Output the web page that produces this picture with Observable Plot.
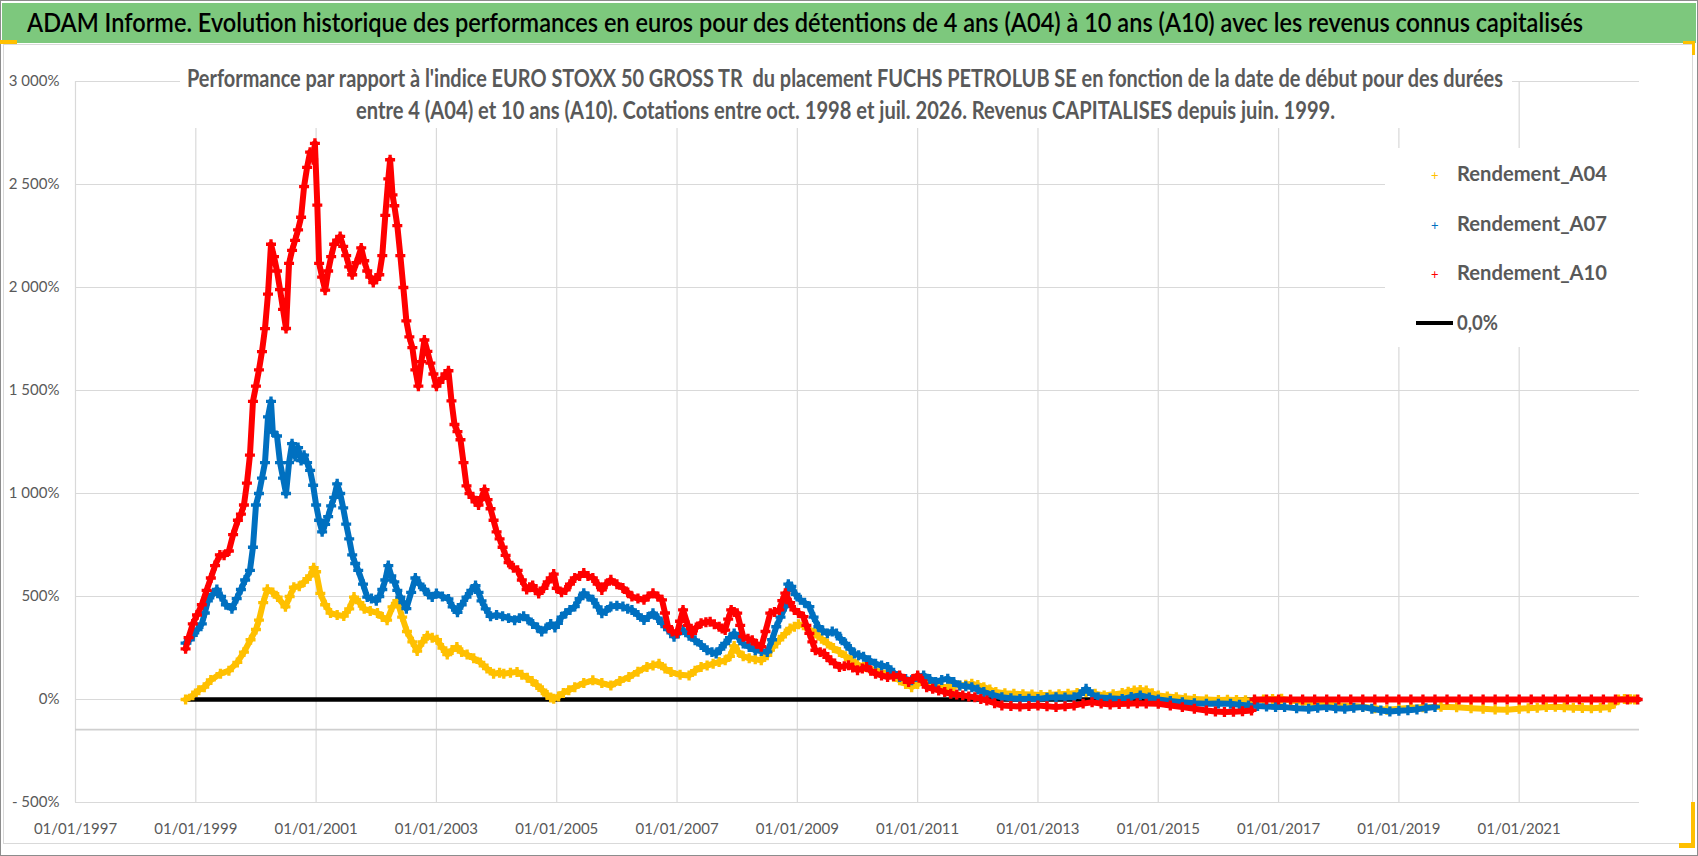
<!DOCTYPE html>
<html><head><meta charset="utf-8">
<script src="https://cdn.jsdelivr.net/npm/d3@7"></script>
<script src="https://cdn.jsdelivr.net/npm/@observablehq/plot@0.6"></script>
<style>
body{margin:0;background:#fff;}
#frame{position:relative;width:1698px;height:856px;overflow:hidden;background:#fff;font-family:Lato,"Open Sans",sans-serif;}
.abs{position:absolute;box-sizing:border-box;}
.fit{position:absolute;white-space:pre;transform-origin:0 0;line-height:1;}
</style></head><body>
<div id="frame">
  <div class="abs" style="left:0;top:0;width:1698px;height:856px;border:1px solid #8c8c8c;"></div>
  <div class="abs" style="left:2px;top:3px;width:1694px;height:40px;background:#7dc87d"></div>
  <div class="abs" style="left:3px;top:44px;width:1690px;height:800px;border:1px solid #d9d9d9;"></div>
  <div id="chart" class="abs" style="left:0;top:45px"></div>
  <div class="abs" style="left:180px;top:62px;width:1332px;height:66px;background:#fff"></div>
  <div class="abs" style="left:1385px;top:148px;width:255px;height:199px;background:#fff"></div>
  <div class="abs" style="left:1416px;top:321px;width:37px;height:4px;background:#000"></div>
  <div class="abs" style="left:0;top:40px;width:17px;height:4px;background:#ffc000"></div>
  <div class="abs" style="left:1683px;top:41px;width:12px;height:3px;background:#ffc000"></div>
  <div class="abs" style="left:1692px;top:41px;width:3px;height:14px;background:#ffc000"></div>
  <div class="abs" style="left:1691px;top:802px;width:4px;height:46px;background:#ffc000"></div>
  <div class="abs" style="left:1679px;top:843px;width:16px;height:5px;background:#ffc000"></div>
</div>
<script>
// ---------------- data ----------------
const titleText = "ADAM Informe. Evolution historique des performances en euros pour des détentions de 4 ans (A04) à 10 ans (A10) avec les revenus connus capitalisés";
const subtitleLines = [
  "Performance par rapport à l'indice EURO STOXX 50 GROSS TR  du placement FUCHS PETROLUB SE en fonction de la date de début pour des durées",
  "entre 4 (A04) et 10 ans (A10). Cotations entre oct. 1998 et juil. 2026. Revenus CAPITALISES depuis juin. 1999."
];
const seriesNames = ["Rendement_A04", "Rendement_A07", "Rendement_A10"];
const zeroName = "0,0%";
const seriesColors = ["#ffc000", "#0070c0", "#ff0000"];

const xTicks = [1997, 1999, 2001, 2003, 2005, 2007, 2009, 2011, 2013, 2015, 2017, 2019, 2021];
const xTickLabels = ["01/01/1997","01/01/1999","01/01/2001","01/01/2003","01/01/2005","01/01/2007","01/01/2009","01/01/2011","01/01/2013","01/01/2015","01/01/2017","01/01/2019","01/01/2021"];
const yTicks = [-500, 0, 500, 1000, 1500, 2000, 2500, 3000];
const yTickLabels = ["- 500%", "0%", "500%", "1 000%", "1 500%", "2 000%", "2 500%", "3 000%"];
const xDomain = [1997, 2023];
const yDomain = [-500, 3000];
const axisCross = [-146];
const zeroLine = [[1998.85, 0], [2023, 0]];

// [start date as decimal year, performance %]
const a04 = [[1998.83,0],[1998.95,20],[1999.05,45],[1999.14,60],[1999.25,95],[1999.41,125],[1999.55,140],[1999.69,180],[1999.8,230],[1999.91,290],[2000.0,340],[2000.05,385],[2000.12,470],[2000.19,535],[2000.28,520],[2000.36,497],[2000.49,450],[2000.56,500],[2000.63,545],[2000.72,550],[2000.8,570],[2000.9,600],[2000.96,640],[2001.0,620],[2001.07,515],[2001.15,460],[2001.24,420],[2001.35,410],[2001.46,405],[2001.55,440],[2001.63,497],[2001.72,470],[2001.8,440],[2001.9,430],[2002.02,420],[2002.1,400],[2002.18,385],[2002.27,450],[2002.35,480],[2002.43,400],[2002.51,330],[2002.6,280],[2002.68,235],[2002.77,280],[2002.85,310],[2002.93,300],[2003.01,290],[2003.1,250],[2003.18,218],[2003.26,240],[2003.34,255],[2003.42,230],[2003.51,218],[2003.62,200],[2003.73,180],[2003.84,150],[2003.95,125],[2004.05,130],[2004.12,125],[2004.23,130],[2004.34,134],[2004.42,120],[2004.51,106],[2004.59,90],[2004.67,70],[2004.76,45],[2004.84,22],[2004.9,10],[2004.95,4],[2005.03,15],[2005.11,32],[2005.2,45],[2005.3,60],[2005.45,80],[2005.6,93],[2005.75,80],[2005.9,68],[2006.05,90],[2006.2,109],[2006.35,135],[2006.5,158],[2006.6,165],[2006.7,174],[2006.8,150],[2006.9,133],[2007.05,120],[2007.2,117],[2007.3,140],[2007.4,158],[2007.5,165],[2007.6,174],[2007.7,182],[2007.8,190],[2007.88,210],[2007.95,260],[2008.02,230],[2008.1,210],[2008.2,200],[2008.3,195],[2008.4,190],[2008.5,215],[2008.6,256],[2008.7,290],[2008.8,320],[2008.88,345],[2008.95,353],[2009.02,365],[2009.1,360],[2009.2,340],[2009.3,320],[2009.4,295],[2009.5,272],[2009.6,250],[2009.7,231],[2009.8,210],[2009.9,190],[2010.0,170],[2010.1,158],[2010.2,150],[2010.3,142],[2010.4,133],[2010.5,125],[2010.6,110],[2010.7,93],[2010.8,75],[2010.9,60],[2011.0,75],[2011.1,85],[2011.2,75],[2011.3,68],[2011.4,62],[2011.5,60],[2011.6,65],[2011.7,68],[2011.8,72],[2011.9,77],[2012.0,70],[2012.1,60],[2012.2,48],[2012.3,36],[2012.45,30],[2012.6,28],[2012.75,26],[2012.9,24],[2013.05,22],[2013.2,23],[2013.35,26],[2013.5,28],[2013.65,32],[2013.8,36],[2013.95,28],[2014.1,20],[2014.25,25],[2014.4,31],[2014.5,38],[2014.6,44],[2014.7,46],[2014.8,44],[2014.9,30],[2015.0,19],[2015.15,15],[2015.3,11],[2015.45,6],[2015.6,3],[2015.8,0],[2016.0,-2],[2016.15,-1],[2016.3,-2],[2016.45,-4],[2016.6,-5],[2016.75,0],[2016.9,3],[2017.05,4],[2017.2,-5],[2017.4,-12],[2017.6,-18],[2017.8,-22],[2018.0,-28],[2018.2,-30],[2018.4,-35],[2018.6,-42],[2018.8,-50],[2019.0,-45],[2019.2,-40],[2019.4,-38],[2019.7,-35],[2019.96,-38],[2020.2,-42],[2020.4,-45],[2020.6,-48],[2020.8,-50],[2021.0,-45],[2021.15,-42],[2021.3,-40],[2021.45,-37],[2021.6,-35],[2021.75,-38],[2021.9,-40],[2022.05,-41],[2022.2,-42],[2022.35,-40],[2022.5,-38],[2022.58,-20],[2022.65,0],[2022.75,2],[2022.85,1],[2022.92,0]];

const a07 = [[1998.83,274],[1998.9,290],[1998.95,311],[1999.03,340],[1999.1,367],[1999.15,420],[1999.2,479],[1999.28,510],[1999.35,534],[1999.42,500],[1999.5,460],[1999.6,441],[1999.68,490],[1999.75,534],[1999.82,580],[1999.9,627],[1999.95,739],[2000.0,944],[2000.05,1000],[2000.1,1075],[2000.15,1150],[2000.2,1372],[2000.25,1447],[2000.28,1298],[2000.35,1279],[2000.4,1150],[2000.45,1075],[2000.5,1000],[2000.55,1150],[2000.6,1242],[2000.65,1180],[2000.7,1223],[2000.75,1160],[2000.8,1186],[2000.85,1150],[2000.9,1112],[2000.95,1040],[2001.0,944],[2001.05,870],[2001.1,814],[2001.15,850],[2001.2,888],[2001.25,940],[2001.3,981],[2001.35,1047],[2001.4,1000],[2001.45,930],[2001.5,851],[2001.55,780],[2001.6,702],[2001.65,660],[2001.7,627],[2001.78,560],[2001.85,497],[2001.92,490],[2002.0,479],[2002.05,500],[2002.1,534],[2002.15,580],[2002.2,650],[2002.25,600],[2002.3,571],[2002.35,530],[2002.4,497],[2002.45,470],[2002.5,441],[2002.58,520],[2002.65,590],[2002.72,560],[2002.8,534],[2002.87,510],[2002.93,497],[2003.0,515],[2003.1,500],[2003.2,488],[2003.27,450],[2003.35,423],[2003.42,460],[2003.5,497],[2003.58,530],[2003.65,553],[2003.7,520],[2003.75,479],[2003.82,440],[2003.9,404],[2004.0,410],[2004.1,404],[2004.2,395],[2004.3,385],[2004.38,395],[2004.45,404],[2004.52,390],[2004.6,367],[2004.68,350],[2004.75,330],[2004.82,345],[2004.9,367],[2004.97,350],[2005.02,370],[2005.08,400],[2005.15,419],[2005.22,435],[2005.3,451],[2005.38,490],[2005.45,516],[2005.52,500],[2005.6,484],[2005.68,450],[2005.75,419],[2005.82,430],[2005.9,451],[2006.0,455],[2006.1,451],[2006.18,440],[2006.25,435],[2006.35,410],[2006.45,386],[2006.52,400],[2006.6,419],[2006.68,395],[2006.75,370],[2006.85,340],[2006.95,305],[2007.02,320],[2007.1,337],[2007.2,310],[2007.3,288],[2007.4,265],[2007.5,239],[2007.58,230],[2007.65,223],[2007.72,245],[2007.8,272],[2007.88,300],[2007.95,321],[2008.02,300],[2008.1,272],[2008.2,255],[2008.3,239],[2008.4,235],[2008.5,231],[2008.58,290],[2008.65,353],[2008.72,400],[2008.8,451],[2008.85,560],[2008.9,549],[2008.97,510],[2009.05,484],[2009.12,470],[2009.2,451],[2009.27,400],[2009.35,353],[2009.42,335],[2009.5,321],[2009.58,330],[2009.65,321],[2009.72,295],[2009.8,272],[2009.88,245],[2009.95,223],[2010.02,215],[2010.1,207],[2010.2,190],[2010.3,174],[2010.4,165],[2010.5,158],[2010.6,130],[2010.7,109],[2010.8,100],[2010.9,93],[2011.0,110],[2011.1,117],[2011.2,100],[2011.3,85],[2011.4,95],[2011.5,101],[2011.6,85],[2011.7,68],[2011.8,64],[2011.9,60],[2012.0,48],[2012.1,36],[2012.25,22],[2012.4,11],[2012.55,6],[2012.7,3],[2012.85,4],[2013.0,3],[2013.15,8],[2013.3,11],[2013.45,10],[2013.6,11],[2013.7,25],[2013.8,52],[2013.9,25],[2014.0,11],[2014.2,6],[2014.4,3],[2014.55,12],[2014.7,20],[2014.85,10],[2015.0,0],[2015.2,-7],[2015.4,-13],[2015.6,-18],[2015.8,-21],[2016.0,-20],[2016.2,-21],[2016.35,-25],[2016.5,-29],[2016.65,-32],[2016.8,-34],[2016.95,-36],[2017.1,-37],[2017.3,-42],[2017.5,-45],[2017.65,-40],[2017.8,-37],[2017.95,-42],[2018.1,-45],[2018.25,-40],[2018.4,-37],[2018.55,-45],[2018.7,-53],[2018.85,-58],[2019.0,-55],[2019.15,-52],[2019.3,-48],[2019.45,-42],[2019.6,-36]];

const a10 = [[1998.83,246],[1998.88,300],[1998.95,367],[1999.02,410],[1999.1,460],[1999.18,530],[1999.25,590],[1999.32,650],[1999.4,702],[1999.47,700],[1999.55,721],[1999.62,800],[1999.7,870],[1999.75,900],[1999.8,944],[1999.85,1050],[1999.9,1186],[1999.95,1447],[2000.0,1521],[2000.05,1600],[2000.1,1689],[2000.15,1800],[2000.2,1968],[2000.25,2210],[2000.3,2150],[2000.35,2080],[2000.4,1990],[2000.45,1894],[2000.5,1801],[2000.55,2117],[2000.6,2180],[2000.65,2229],[2000.7,2280],[2000.75,2341],[2000.8,2490],[2000.85,2583],[2000.9,2657],[2000.95,2620],[2000.98,2700],[2001.02,2400],[2001.05,2117],[2001.1,2050],[2001.15,1987],[2001.2,2080],[2001.25,2150],[2001.3,2210],[2001.35,2230],[2001.4,2248],[2001.45,2200],[2001.5,2155],[2001.55,2100],[2001.6,2062],[2001.67,2120],[2001.75,2192],[2001.8,2130],[2001.85,2080],[2001.9,2050],[2001.95,2024],[2002.0,2040],[2002.05,2062],[2002.1,2155],[2002.15,2350],[2002.2,2527],[2002.23,2620],[2002.27,2450],[2002.3,2397],[2002.35,2300],[2002.4,2155],[2002.45,2000],[2002.5,1838],[2002.55,1760],[2002.6,1708],[2002.65,1600],[2002.7,1521],[2002.75,1640],[2002.8,1745],[2002.85,1690],[2002.9,1633],[2002.95,1580],[2003.0,1521],[2003.05,1540],[2003.1,1559],[2003.15,1580],[2003.2,1596],[2003.25,1450],[2003.3,1335],[2003.35,1300],[2003.4,1261],[2003.45,1150],[2003.5,1037],[2003.55,1000],[2003.6,981],[2003.65,960],[2003.7,944],[2003.75,980],[2003.8,1019],[2003.85,970],[2003.9,926],[2003.95,870],[2004.0,814],[2004.05,780],[2004.1,739],[2004.15,700],[2004.2,665],[2004.28,640],[2004.35,627],[2004.42,580],[2004.5,534],[2004.55,545],[2004.6,553],[2004.65,530],[2004.7,515],[2004.78,540],[2004.85,571],[2004.9,590],[2004.95,609],[2005.0,540],[2005.08,520],[2005.15,532],[2005.22,560],[2005.3,590],[2005.38,600],[2005.45,614],[2005.52,600],[2005.6,590],[2005.68,560],[2005.75,532],[2005.82,560],[2005.9,581],[2006.0,560],[2006.1,541],[2006.18,520],[2006.25,500],[2006.35,490],[2006.45,484],[2006.52,500],[2006.6,516],[2006.68,500],[2006.75,484],[2006.8,420],[2006.85,353],[2006.92,330],[2007.0,321],[2007.05,380],[2007.1,435],[2007.18,360],[2007.25,321],[2007.32,350],[2007.4,370],[2007.48,375],[2007.55,378],[2007.62,365],[2007.7,353],[2007.75,345],[2007.8,337],[2007.85,390],[2007.9,435],[2007.95,425],[2008.0,419],[2008.05,360],[2008.1,305],[2008.18,295],[2008.25,288],[2008.32,270],[2008.4,256],[2008.47,330],[2008.55,419],[2008.62,425],[2008.7,435],[2008.75,480],[2008.8,516],[2008.88,470],[2008.95,435],[2009.02,420],[2009.1,402],[2009.15,360],[2009.2,321],[2009.25,280],[2009.3,239],[2009.38,230],[2009.45,223],[2009.5,205],[2009.55,190],[2009.62,175],[2009.7,158],[2009.78,162],[2009.85,166],[2009.92,155],[2010.0,142],[2010.08,150],[2010.15,158],[2010.22,140],[2010.3,125],[2010.4,117],[2010.5,109],[2010.6,113],[2010.7,117],[2010.78,100],[2010.85,85],[2010.92,100],[2011.0,117],[2011.08,90],[2011.15,60],[2011.25,52],[2011.35,44],[2011.45,36],[2011.55,28],[2011.65,24],[2011.75,20],[2011.85,15],[2011.95,11],[2012.05,3],[2012.15,-5],[2012.28,-18],[2012.4,-29],[2012.55,-32],[2012.7,-34],[2012.85,-31],[2013.0,-29],[2013.15,-33],[2013.3,-37],[2013.45,-33],[2013.6,-29],[2013.75,-20],[2013.9,-13],[2014.05,-20],[2014.2,-24],[2014.35,-22],[2014.5,-21],[2014.65,-18],[2014.8,-20],[2015.0,-21],[2015.2,-29],[2015.4,-37],[2015.6,-45],[2015.8,-53],[2015.95,-58],[2016.1,-61],[2016.25,-59],[2016.4,-57],[2016.55,-53]];
const a10Late = [[2016.6,0],[2016.8,0],[2017.0,0],[2017.2,0],[2017.4,0],[2017.6,0],[2017.8,0],[2018.0,0],[2018.2,0],[2018.4,0],[2018.6,0],[2018.8,0],[2019.0,0],[2019.2,0],[2019.4,0],[2019.6,0],[2019.8,0],[2020.0,0],[2020.2,0],[2020.4,0],[2020.6,0],[2020.8,0],[2021.0,0],[2021.2,0],[2021.4,0],[2021.6,0],[2021.8,0],[2022.0,0],[2022.2,0],[2022.4,0],[2022.6,0],[2022.8,0],[2022.97,0]];

// ---------------- chart ----------------
const W = 1698, H = 800;
const X = d => d[0], Y = d => d[1];
function seriesMarks(data, color) {
  return [
    Plot.line(data, {x: X, y: Y, stroke: color, strokeWidth: 6, strokeLinejoin: "round"}),
    Plot.dot(data, {x: X, y: Y, symbol: "cross", r: 4.2, fill: color, stroke: "none"})
  ];
}
const chart = Plot.plot({
  width: W, height: H,
  marginLeft: 75, marginRight: 59, marginTop: 36, marginBottom: 43,
  style: {background: "transparent", fontFamily: "Lato, 'Open Sans', sans-serif", fontSize: "15px", color: "#595959"},
  x: {domain: xDomain},
  y: {domain: yDomain},
  marks: [
    Plot.ruleY(yTicks, {stroke: "#d9d9d9", strokeWidth: 1.2}),
    Plot.ruleX(xTicks, {y1: yDomain[0], y2: yDomain[1], stroke: "#d9d9d9", strokeWidth: 1.2}),
    Plot.ruleY(axisCross, {stroke: "#cfcfcf", strokeWidth: 1.6}),
    Plot.axisY(yTicks, {tickSize: 0, tickPadding: 16, tickFormat: d => yTickLabels[yTicks.indexOf(d)], fontSize: 15, fill: "#595959"}),
    Plot.axisX(xTicks, {tickSize: 0, tickPadding: 21, tickFormat: d => xTickLabels[xTicks.indexOf(d)], fontSize: 15, fill: "#595959"}),
    Plot.line(zeroLine, {x: X, y: Y, stroke: "#000", strokeWidth: 4.5}),
    ...seriesMarks(a04, seriesColors[0]),
    ...seriesMarks(a07, seriesColors[1]),
    ...seriesMarks(a10, seriesColors[2]),
    ...seriesMarks(a10Late, seriesColors[2])
  ]
});
document.getElementById("chart").appendChild(chart);

// ---------------- texts (title, subtitle, legend) ----------------
const frame = document.getElementById("frame");
function fitText(txt, x0, x1, baseline, size, weight, color) {
  const s = document.createElement("span");
  s.className = "fit";
  s.textContent = txt;
  s.style.fontSize = size + "px";
  s.style.fontWeight = weight;
  s.style.color = color;
  s.style.left = "0px"; s.style.top = "0px";
  const m = document.createElement("span");
  m.style.display = "inline-block"; m.style.width = "0"; m.style.height = "0";
  s.appendChild(m);
  frame.appendChild(s);
  const r = s.getBoundingClientRect(), mr = m.getBoundingClientRect();
  const baseOff = mr.top - r.top;
  s.style.left = x0 + "px";
  s.style.top = (baseline - baseOff) + "px";
  if (x1 != null) s.style.transform = `scaleX(${(x1 - x0) / r.width})`;
  return s;
}
fitText(titleText, 27, 1583, 32, 26, 600, "#000");
fitText(subtitleLines[0], 187, 1503, 87, 24, 700, "#595959");
fitText(subtitleLines[1], 356, 1335, 119, 24, 700, "#595959");
const legendY = [181, 231, 280];
seriesNames.forEach((n, i) => {
  fitText(n, 1457, 1607, legendY[i], 21, 700, "#595959");
  fitText("+", 1431, null, legendY[i] - 1, 13, 400, seriesColors[i]);
});
fitText(zeroName, 1457, 1498, 330, 21, 700, "#595959");
</script>
</body></html>
